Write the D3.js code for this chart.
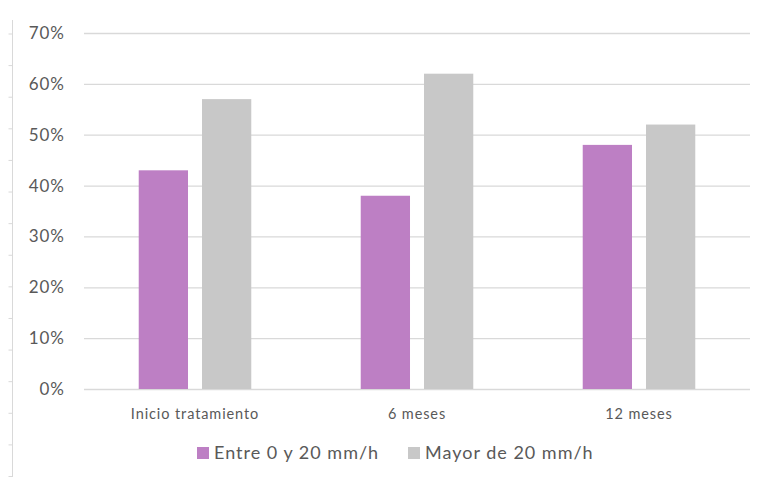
<!DOCTYPE html>
<html>
<head>
<meta charset="utf-8">
<script src="https://cdn.jsdelivr.net/npm/d3@7"></script>
<style>
  html, body { margin: 0; padding: 0; background: #fff; }
  svg { display: block; }
  text { font-family: Lato, "Open Sans", sans-serif; fill: #595959; }
</style>
</head>
<body>
<svg id="chart" width="757" height="477"></svg>
<script>
// Chart data
const categories = ["Inicio tratamiento", "6 meses", "12 meses"];
const seriesNames = ["Entre 0 y 20 mm/h", "Mayor de 20 mm/h"];
const entre0y20 = [43, 38, 48];
const mayor20 = [57, 62, 52];
const yTicks = [0, 10, 20, 30, 40, 50, 60, 70];
const colors = ["#BD7FC4", "#C8C8C8"];

const svg = d3.select("#chart");
const plot = { left: 84, right: 750, top: 33, bottom: 389 };

const x0 = d3.scaleBand().domain(categories).range([plot.left, plot.right]).padding(0);
const y = d3.scaleLinear().domain([0, 70]).range([plot.bottom, plot.top]);

// Frame line on the left with small tick marks
const frame = d3.scaleLinear().domain([0, 14]).range([33.5, 476]);
const frameG = svg.append("g").attr("transform", "translate(12.5,0)")
  .call(d3.axisLeft(frame).tickValues(d3.range(0, 15)).tickSize(4).tickFormat(""));
frameG.select(".domain").attr("stroke", "#D9D9D9").attr("d", "M0,20V477");
frameG.selectAll(".tick line").attr("stroke", "#D9D9D9");

// Horizontal gridlines
const grid = svg.append("g").attr("transform", `translate(${plot.left},0)`)
  .call(d3.axisLeft(y).tickValues(yTicks).tickSize(-(plot.right - plot.left)).tickFormat(""));
grid.select(".domain").remove();
grid.selectAll(".tick line").attr("stroke", "#D9D9D9").attr("stroke-width", 1.3);

// Y tick labels
const yAxis = svg.append("g").attr("transform", "translate(64,0)")
  .call(d3.axisLeft(y).tickValues(yTicks).tickSize(0).tickPadding(0).tickFormat(d => d + "%"));
yAxis.select(".domain").remove();
yAxis.selectAll("text").attr("font-size", 17).attr("text-anchor", "end")
  .attr("dx", 1).style("letter-spacing", "1px")
  .style("font-family", "Lato, 'Open Sans', sans-serif").style("fill", "#595959");

// Bars
const bw = x0.bandwidth();
const barW = bw * 0.222;
const gap = bw * 0.063;
const series = [entre0y20, mayor20];
const groupW = barW * 2 + gap;

series.forEach((vals, si) => {
  svg.append("g").selectAll("rect")
    .data(categories)
    .join("rect")
    .attr("x", (c) => x0(c) + (bw - groupW) / 2 + si * (barW + gap))
    .attr("y", (c, i) => y(vals[i]))
    .attr("width", barW)
    .attr("height", (c, i) => y(0) - y(vals[i]))
    .attr("fill", colors[si]);
});

// X axis labels
const xAxis = svg.append("g").attr("transform", `translate(0,${plot.bottom})`)
  .call(d3.axisBottom(x0).tickSize(0).tickPadding(0));
xAxis.select(".domain").remove();
xAxis.selectAll("text").attr("y", 30).attr("dy", 0).attr("font-size", 14.5)
  .style("letter-spacing", "0.9px")
  .style("font-family", "Lato, 'Open Sans', sans-serif").style("fill", "#595959");

// Legend
const legendX = [197, 408];
const legend = svg.append("g");
seriesNames.forEach((name, i) => {
  legend.append("rect").attr("x", legendX[i]).attr("y", 447).attr("width", 12).attr("height", 12)
    .attr("fill", colors[i]);
  legend.append("text").attr("x", legendX[i] + 17).attr("y", 458.5)
    .attr("font-size", 18).style("letter-spacing", "1px").text(name);
});
</script>
</body>
</html>
